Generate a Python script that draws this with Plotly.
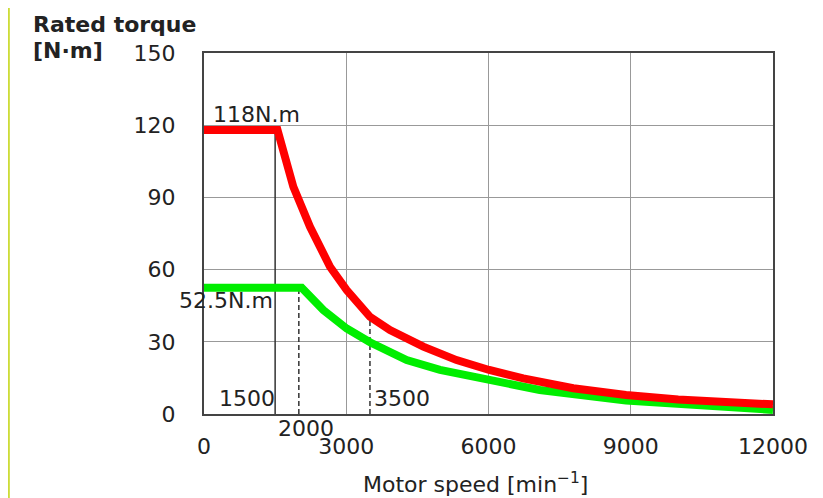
import plotly.graph_objects as go

# Data
red_speed = [0, 1550, 1884, 2235, 2657, 3009, 3500, 3922, 4625, 5327, 6015, 6733, 7788, 8900, 10000, 11000, 12000]
red_torque = [118, 118, 94.4, 77.8, 61.2, 51.5, 40.4, 34.9, 28.0, 22.4, 18.3, 14.8, 10.7, 7.9, 6.0, 5.0, 4.0]

green_speed = [0, 2060, 2516, 3009, 3500, 4274, 4977, 6015, 7081, 8900, 10500, 12000]
green_torque = [52.5, 52.5, 43.2, 35.5, 29.8, 22.4, 18.3, 14.1, 10.0, 5.6, 3.2, 1.7]

ref_speeds = [1500, 2000, 3500]
ref_tops = [118, 52.5, 40.4]
ref_dash = ["solid", "5px,3px", "5px,3px"]

x_ticks = [0, 3000, 6000, 9000, 12000]
y_ticks = [0, 30, 60, 90, 120, 150]

FONT = "DejaVu Sans"
TXT = "#222222"

fig = go.Figure()

for s, top, d in zip(ref_speeds, ref_tops, ref_dash):
    fig.add_trace(go.Scatter(x=[s, s], y=[0, top], mode="lines",
                             line=dict(color="#333333", width=1.5, dash=d),
                             showlegend=False, hoverinfo="skip"))

fig.add_trace(go.Scatter(x=green_speed, y=green_torque, mode="lines",
                         line=dict(color="#00ee00", width=8),
                         showlegend=False))
fig.add_trace(go.Scatter(x=red_speed, y=red_torque, mode="lines",
                         line=dict(color="#ff0000", width=8),
                         showlegend=False))

ann = []
def add(text, x, y, xref="x", yref="y", xanchor="center", yanchor="middle", size=22, bold=False):
    ann.append(dict(text=("<b>%s</b>" % text) if bold else text, x=x, y=y,
                    xref=xref, yref=yref, xanchor=xanchor, yanchor=yanchor,
                    showarrow=False, font=dict(family=FONT, size=size, color=TXT)))

add("118N.m", 150, 124.5, xanchor="left")
add("52.5N.m", 1500, 47, xanchor="right")
add("1500", 900, 6.6)
add("3500", 3540, 6.6, xanchor="left")
add("2000", 2150, -0.0388, yref="paper")
add("Motor speed [min<sup>−1</sup>]", 0.478, -0.191, xref="paper", yref="paper")
add("Rated torque", -0.304, 1.119, xref="paper", yref="paper", xanchor="left",
    yanchor="top", size=22, bold=True)
add("[N·m]", -0.304, 1.008, xref="paper", yref="paper", xanchor="left", size=22, bold=True)

fig.update_layout(
    width=815, height=490,
    margin=dict(l=196, r=50, t=45, b=84),
    paper_bgcolor="white", plot_bgcolor="white",
    annotations=ann,
    shapes=[dict(type="line", xref="paper", yref="paper",
                 x0=-0.343, x1=-0.343, y0=-0.3, y1=1.2,
                 line=dict(color="#cddc39", width=2))],
    xaxis=dict(range=[0, 12000], tickvals=x_ticks, ticktext=[str(v) for v in x_ticks],
               showgrid=True, gridcolor="#999999", gridwidth=1,
               showline=True, mirror=True, linecolor="#444444", linewidth=2,
               zeroline=False, ticks="", ticklabelstandoff=12,
               tickfont=dict(family=FONT, size=22, color=TXT)),
    yaxis=dict(range=[0, 150], tickvals=y_ticks, ticktext=[str(v) for v in y_ticks],
               showgrid=True, gridcolor="#999999", gridwidth=1,
               showline=True, mirror=True, linecolor="#444444", linewidth=2,
               zeroline=False, ticks="", ticklabelstandoff=22,
               tickfont=dict(family=FONT, size=22, color=TXT)),
)

fig.write_html("out.html")
